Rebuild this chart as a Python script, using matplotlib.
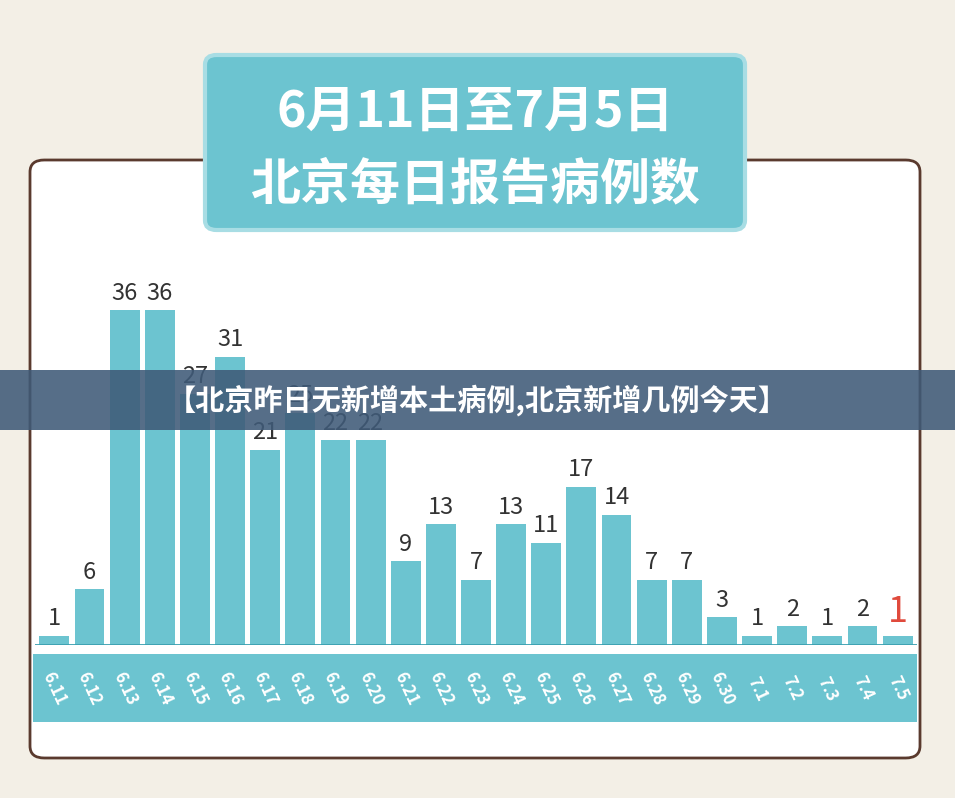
import matplotlib.pyplot as plt
from matplotlib.patches import FancyBboxPatch, Rectangle

plt.rcParams['font.family'] = ['Noto Sans CJK SC', 'DejaVu Sans']

dates = ['6.11', '6.12', '6.13', '6.14', '6.15', '6.16', '6.17', '6.18', '6.19', '6.20',
         '6.21', '6.22', '6.23', '6.24', '6.25', '6.26', '6.27', '6.28', '6.29', '6.30',
         '7.1', '7.2', '7.3', '7.4', '7.5']
cases = [1, 6, 36, 36, 27, 31, 21, 25, 22, 22, 9, 13, 7, 13, 11, 17, 14, 7, 7, 3, 1, 2, 1, 2, 1]

W, H = 955, 798
teal = '#6cc4d0'
fig = plt.figure(figsize=(W / 100, H / 100), dpi=100)
fig.patch.set_facecolor('#f3efe6')

def fx(x): return x / W
def fy(y): return 1 - y / H

# white card
fig.patches.append(FancyBboxPatch((fx(30), fy(758)), fx(890), (758 - 160) / H,
                                  boxstyle='round,pad=0,rounding_size=0.015',
                                  transform=fig.transFigure, facecolor='white',
                                  edgecolor='#5a3a2e', linewidth=2, zorder=-2))
# tick band
fig.patches.append(Rectangle((fx(33), fy(722)), fx(884), 68 / H, transform=fig.transFigure,
                             facecolor=teal, edgecolor='none', zorder=-1))
# title box
fig.patches.append(FancyBboxPatch((fx(205), fy(230)), fx(540), 175 / H,
                                  boxstyle='round,pad=0,rounding_size=0.012',
                                  transform=fig.transFigure, facecolor=teal,
                                  edgecolor='#a8dde4', linewidth=3, zorder=-1))
fig.text(fx(475), fy(112), '6月11日至7月5日', ha='center', va='center', fontsize=36,
         color='white', fontweight='bold')
fig.text(fx(475), fy(185), '北京每日报告病例数', ha='center', va='center', fontsize=36,
         color='white', fontweight='bold')

ax = fig.add_axes([fx(35), fy(645), fx(882), 400 / H])
ax.set_zorder(2)
ax.set_facecolor('none')
x = range(len(cases))
ax.bar(x, cases, width=0.85, color=teal, edgecolor='none')
ax.set_xlim(-0.55, len(cases) - 0.45)
ax.set_ylim(0, 400 / 9.3)
ax.axis('off')
for i, v in enumerate(cases):
    last = i == len(cases) - 1
    ax.text(i, v + 0.6, str(v), ha='center', va='bottom',
            fontsize=26 if last else 17, color='#e04a3c' if last else '#333333')
    ax.text(i, -4.7, dates[i], ha='center', va='center', rotation=-65,
            fontsize=12, color='white', fontweight='bold', clip_on=False)
ax.axhline(0, color='#3a9fb0', linewidth=2)

# overlay banner
fig.patches.append(Rectangle((0, fy(430)), 1, 60 / H, transform=fig.transFigure,
                             facecolor='#3f5a78', alpha=0.88, edgecolor='none', zorder=5))
fig.text(0.5, fy(400), '【北京昨日无新增本土病例,北京新增几例今天】', ha='center', va='center',
         fontsize=21, color='white', fontweight='bold', zorder=6)

fig.savefig('out.png', dpi=100, facecolor=fig.get_facecolor())
